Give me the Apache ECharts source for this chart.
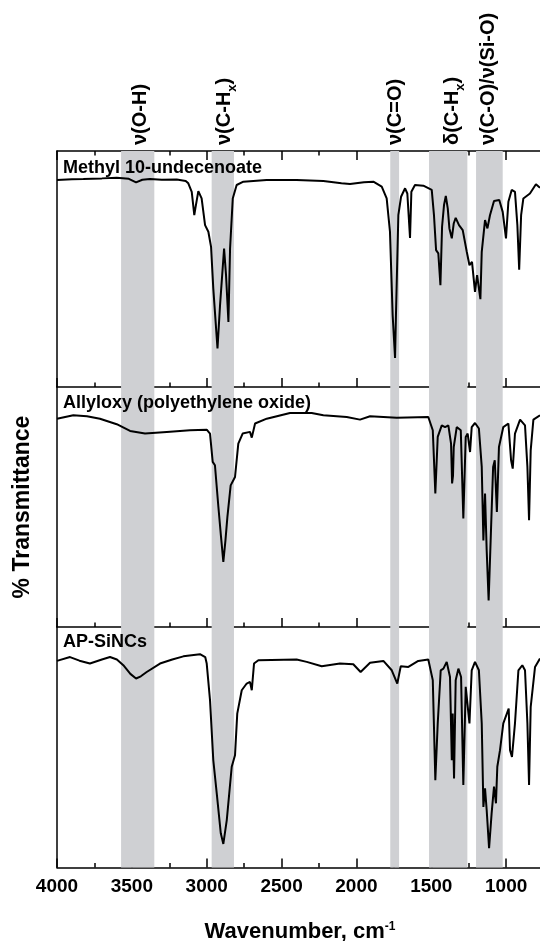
<!DOCTYPE html>
<html>
<head>
<meta charset="utf-8">
<script src="https://cdn.jsdelivr.net/npm/echarts@6/dist/echarts.min.js"></script>
<style>
html, body { margin: 0; padding: 0; background: #fff; }
#main { width: 540px; height: 941px; }
</style>
</head>
<body>
<div id="main"></div>
<script>
// FTIR spectra, three stacked panels (wavenumber, % transmittance)
const panelNames = ['Methyl 10-undecenoate', 'Allyloxy (polyethylene oxide)', 'AP-SiNCs'];

const methylWn = [4000,3900,3824,3700,3601,3520,3472,3430,3379,3300,3200,3140,3123,3100,3083,3075,3056,3034,3011,2989,2971,2956,2928,2911,2884,2871,2855,2844,2826,2800,2755,2600,2400,2221,2100,2043,1950,1887,1831,1798,1776,1758,1742,1736,1720,1702,1675,1660,1642,1633,1609,1553,1497,1482,1468,1453,1439,1428,1415,1403,1390,1379,1363,1350,1337,1315,1290,1263,1245,1228,1208,1194,1172,1163,1141,1125,1108,1081,1046,1023,1001,985,963,941,925,913,900,885,841,801,774];
const methylT = [87.7,88.0,88.1,88.4,88.7,88.2,86.7,87.8,88.1,87.8,87.9,87.3,86.3,82.7,72.8,76.0,83.0,79.9,68.6,65.8,59.4,41.7,16.3,34.7,58.7,47.4,27.6,58.7,79.9,85.6,87.0,87.7,87.7,87.3,86.3,86.0,86.8,87.0,84.9,79.9,65.8,30.4,12.3,30.4,72.8,80.6,84.2,82.0,63.2,82.7,85.6,85.3,83.5,72.8,58.0,56.6,43.1,67.9,77.1,81.0,75.7,67.2,63.0,69.3,71.7,68.6,66.5,57.3,51.6,53.0,40.3,47.4,37.2,57.3,70.7,67.2,72.8,78.8,79.2,74.2,63.0,78.5,83.5,82.7,68.6,49.7,72.8,79.9,82.0,85.9,84.4];

const allylWn = [4000,3891,3800,3713,3601,3512,3412,3267,3112,3000,2978,2960,2945,2922,2905,2889,2875,2862,2840,2811,2789,2760,2711,2699,2677,2599,2444,2299,2221,2065,1976,1909,1731,1520,1490,1473,1457,1430,1408,1386,1368,1361,1355,1350,1330,1303,1286,1270,1257,1241,1230,1208,1182,1163,1152,1141,1130,1117,1102,1087,1076,1062,1048,1019,985,967,956,941,907,874,858,847,836,818,774];
const allylT = [86.8,88.2,87.8,86.8,84.5,81.7,80.6,81.3,82.0,82.2,80.6,68.8,67.4,50.0,38.0,27.1,36.0,45.8,59.0,62.5,76.4,80.6,81.3,78.9,84.8,86.8,89.2,89.2,88.2,87.5,86.4,87.8,87.2,87.5,82.0,55.6,79.2,84.0,83.3,84.0,76.4,59.8,63.0,75.0,83.3,82.0,45.2,79.2,80.6,72.9,83.3,85.0,82.7,66.7,36.1,55.6,32.0,11.1,38.9,66.7,69.5,47.9,75.0,83.3,84.8,69.5,66.0,80.6,86.4,84.0,66.7,44.5,73.6,86.4,88.2];

const apWn = [4000,3913,3850,3780,3700,3646,3600,3557,3510,3472,3440,3401,3312,3230,3156,3045,3010,3000,2978,2956,2933,2906,2889,2866,2833,2811,2796,2766,2733,2711,2699,2684,2655,2399,2332,2232,2110,2021,1972,1909,1820,1764,1727,1704,1653,1587,1520,1490,1473,1457,1437,1419,1397,1375,1363,1357,1348,1337,1319,1301,1286,1270,1257,1245,1230,1208,1182,1163,1152,1141,1130,1114,1097,1081,1068,1059,1041,1019,983,974,961,941,918,892,874,858,847,836,807,774];
const apT = [85.9,87.5,86.0,84.8,86.5,87.5,86.5,84.1,80.5,78.6,79.5,81.3,84.8,86.5,87.8,88.7,87.5,84.8,69.6,44.6,30.8,14.2,9.8,19.7,41.9,46.7,64.0,73.7,76.5,77.2,73.7,84.8,86.2,86.5,85.5,83.7,84.8,84.5,81.3,85.1,85.9,82.0,76.5,83.7,83.4,85.9,86.5,77.9,36.3,59.9,82.0,82.7,85.5,79.2,44.6,64.0,37.0,77.9,82.7,79.2,34.3,75.1,75.8,59.9,82.0,85.5,82.0,59.9,25.2,32.9,23.9,8.0,22.5,33.6,26.7,41.9,48.8,59.9,66.1,48.8,46.0,59.9,82.0,84.1,82.0,59.9,34.3,66.8,83.4,86.9];

// shaded assignment bands [from, to] in cm-1 and their labels
const bands = [[3572, 3350], [2967, 2818], [1774, 1715], [1515, 1259], [1201, 1023]];
const bandLabels = ['{n|ν(O-H)}', '{n|ν(C-H}{s|x}{n|)}', '{n|ν(C=O)}', '{n|δ(C-H}{s|x}{n|)}', '{n|ν(C-O)/ν(Si-O)}'];
const bandLabelPos = [3444, 2881, 1738, 1356, 1121];

const xTicks = { min: 500, max: 4000, interval: 500 };

const FONT = '"Liberation Sans", Arial, Helvetica, sans-serif';
const gridTops = [151, 387, 627];
const gridHeights = [236, 240, 240.5];
const titleTops = [159, 394, 633];

function zip(a, b) { return a.map((v, i) => [v, b[i]]); }
const spectra = [zip(methylWn, methylT), zip(allylWn, allylT), zip(apWn, apT)];

const axisLineStyle = { color: '#000', width: 1.5 };

function makeX(i, pos) {
    const labelled = i === 2 && pos === 'bottom';
    return {
        type: 'value', gridIndex: i, position: pos, inverse: true,
        min: xTicks.min, max: xTicks.max, interval: xTicks.interval,
        axisLine: { show: true, onZero: false, lineStyle: axisLineStyle },
        axisTick: { show: true, inside: true, length: 9, lineStyle: axisLineStyle },
        minorTick: { show: true, splitNumber: 2, length: 4.5, lineStyle: axisLineStyle },
        splitLine: { show: false },
        minorSplitLine: { show: false },
        axisLabel: {
            show: labelled,
            showMinLabel: false,
            margin: 10,
            formatter: v => String(v),
            fontSize: 19, fontWeight: 'bold', fontFamily: FONT, color: '#000'
        },
        name: labelled ? '{a|Wavenumber, cm}{b|-1}' : '',
        nameLocation: 'middle',
        nameGap: 53,
        nameTextStyle: {
            // the axis runs past the right edge, pull the name back to the visible centre
            padding: [0, 38, 0, 0],
            rich: {
                a: { fontSize: 22, fontWeight: 'bold', fontFamily: FONT, color: '#000' },
                b: { fontSize: 12, fontWeight: 'bold', fontFamily: FONT, color: '#000', verticalAlign: 'top' }
            }
        }
    };
}

const xAxes = [makeX(0, 'bottom'), makeX(1, 'bottom'), makeX(2, 'bottom'), makeX(0, 'top')];

const yAxes = [0, 1, 2].map(i => ({
    type: 'value', gridIndex: i, min: 0, max: 100,
    axisLine: { show: true, lineStyle: axisLineStyle },
    axisTick: { show: false },
    axisLabel: { show: false },
    splitLine: { show: false },
    name: i === 1 ? '% Transmittance' : '',
    nameLocation: 'middle',
    nameRotate: 90,
    nameGap: 23,
    nameTextStyle: { fontSize: 23, fontWeight: 'bold', fontFamily: FONT, color: '#000' }
}));

const myChart = echarts.init(document.getElementById('main'), null, { renderer: 'canvas' });

const option = {
    animation: false,
    backgroundColor: '#fff',
    grid: gridTops.map((t, i) => ({
        left: 57, width: 524, top: t, height: gridHeights[i],
        outerBoundsMode: 'none', containLabel: false
    })),
    title: panelNames.map((t, i) => ({
        text: t, left: 63, top: titleTops[i], padding: 0,
        textStyle: { fontSize: 18, fontWeight: 'bold', fontFamily: FONT, color: '#000' }
    })),
    xAxis: xAxes,
    yAxis: yAxes,
    series: spectra.map((d, i) => ({
        type: 'line',
        xAxisIndex: i,
        yAxisIndex: i,
        data: d,
        symbol: 'none',
        silent: true,
        z: 3,
        lineStyle: { color: '#000', width: 2 },
        markArea: {
            silent: true,
            z: 1,
            itemStyle: { color: '#cfd0d3' },
            data: bands.map(b => [{ xAxis: b[0] }, { xAxis: b[1] }])
        }
    }))
};
myChart.setOption(option);

// vertical band labels above the top panel
const labelGraphics = bandLabels.map((t, i) => ({
    type: 'text',
    x: myChart.convertToPixel({ xAxisIndex: 0 }, bandLabelPos[i]),
    y: 145,
    rotation: Math.PI / 2,
    style: {
        text: t,
        align: 'left',
        verticalAlign: 'middle',
        fill: '#000',
        rich: {
            n: { fontSize: 20, fontWeight: 'bold', fontFamily: FONT, fill: '#000' },
            s: { fontSize: 13, fontWeight: 'bold', fontFamily: FONT, fill: '#000', verticalAlign: 'bottom', padding: [0, 0, -4, 0] }
        }
    }
}));
myChart.setOption({ graphic: labelGraphics });
</script>
</body>
</html>
